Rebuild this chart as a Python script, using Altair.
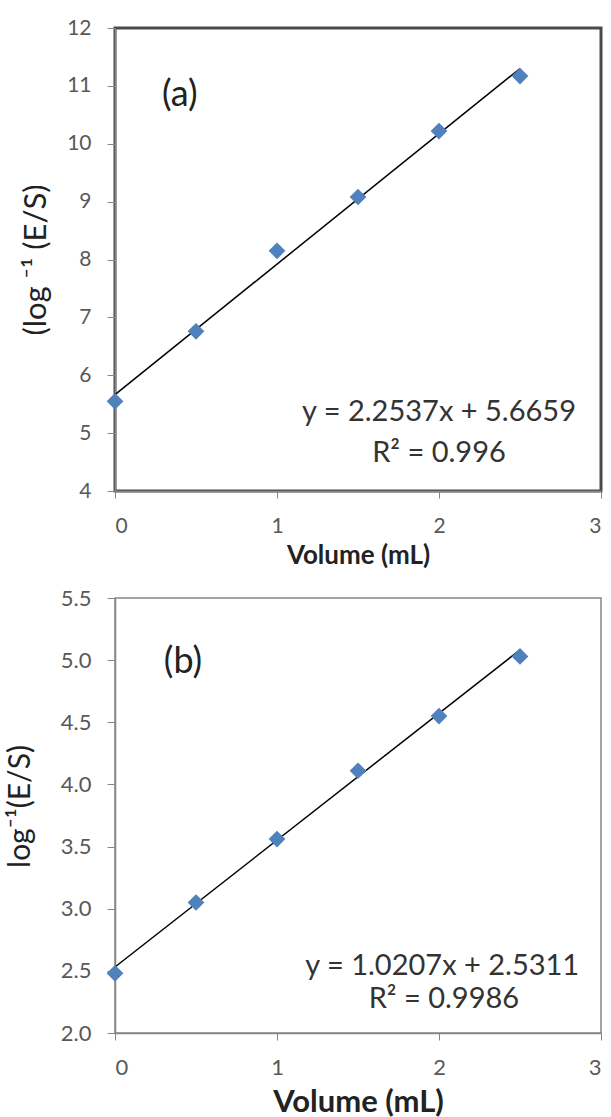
import altair as alt
import pandas as pd

# ---- data ----
volume = [0, 0.5, 1, 1.5, 2, 2.5]
resp_a = [5.55, 6.76, 8.15, 9.08, 10.22, 11.17]
resp_b = [2.48, 3.05, 3.56, 4.11, 4.55, 5.03]

slope_a, icpt_a = 2.2537, 5.6659
slope_b, icpt_b = 1.0207, 2.5311
fit_range = [0, 2.5]

eq_a = ["y = 2.2537x + 5.6659", "R² = 0.996"]
eq_b = ["y = 1.0207x + 2.5311", "R² = 0.9986"]
eq_a_x = [2.0, 2.0]
eq_a_y = [5.37, 4.66]
eq_b_x = [2.02, 2.03]
eq_b_y = [2.54, 2.27]

panel_labels = ["(a)", "(b)"]
panel_label_x = [0.40, 0.42]
panel_label_y = [10.84, 4.985]

x_ticks = [0, 1, 2, 3]
y_ticks_a = [4, 5, 6, 7, 8, 9, 10, 11, 12]
y_ticks_b = [2.0, 2.5, 3.0, 3.5, 4.0, 4.5, 5.0, 5.5]

FONT = "Lato"
MARK_COLOR = "#4F81BD"
LABEL_COLOR = "#595959"


def panel(resp, slope, icpt, eqs, eq_x, eq_y, lab, lab_x, lab_y,
          ydom, yticks, yfmt, ytitle, ytitle_x, ytitle_y, w, h,
          label_size, xtitle_size, ytitle_size, eq_size, view_stroke, view_sw,
          xtitle_pad):
    pts = pd.DataFrame({"v": volume, "r": resp})
    fit = pd.DataFrame({"v": fit_range})
    txt = pd.DataFrame({"x": eq_x, "y": eq_y, "t": eqs})
    plab = pd.DataFrame({"x": [lab_x], "y": [lab_y], "t": [lab]})

    xsc = alt.Scale(domain=[0, 3], nice=False, zero=False)
    ysc = alt.Scale(domain=ydom, nice=False, zero=False)

    yaxis_kw = dict(
        values=yticks, format=yfmt, grid=False, tickSize=8, labelPadding=16,
        labelFont=FONT, labelFontSize=label_size, labelColor=LABEL_COLOR,
        domainColor="#868686", tickColor="#868686", domainWidth=1.5,
        title=ytitle, titleFont=FONT, titleFontSize=ytitle_size,
        titleFontWeight="normal", titleColor="#222222", titleX=ytitle_x,
    )
    if ytitle_y is not None:
        yaxis_kw["titleY"] = ytitle_y
    xaxis = alt.Axis(
        values=x_ticks, format="d", grid=False, tickSize=7, labelPadding=17,
        labelFont=FONT, labelFontSize=label_size, labelColor=LABEL_COLOR,
        domainColor="#868686", tickColor="#868686", domainWidth=1.5,
        title="Volume (mL)", titleFont=FONT, titleFontSize=xtitle_size,
        titleFontWeight="bold", titleColor="#222222", titlePadding=xtitle_pad,
    )

    base_x = alt.X("v:Q", scale=xsc, axis=xaxis)
    base_y = alt.Y("r:Q", scale=ysc, axis=alt.Axis(**yaxis_kw))

    line = alt.Chart(fit).transform_calculate(
        r=f"{icpt} + {slope} * datum.v"
    ).mark_line(color="black", strokeWidth=1.5).encode(x=base_x, y=base_y)

    points = alt.Chart(pts).mark_point(
        shape="diamond", filled=True, size=280, color=MARK_COLOR, opacity=1
    ).encode(x=base_x, y=base_y)

    eq = alt.Chart(txt).mark_text(
        font=FONT, fontSize=eq_size, color="#333333", align="center", baseline="middle"
    ).encode(x=alt.X("x:Q", scale=xsc), y=alt.Y("y:Q", scale=ysc), text="t:N")

    pl = alt.Chart(plab).mark_text(
        font=FONT, fontSize=36, color="#222222", align="center", baseline="middle"
    ).encode(x=alt.X("x:Q", scale=xsc), y=alt.Y("y:Q", scale=ysc), text="t:N")

    return alt.layer(line, points, eq, pl).properties(
        width=w, height=h,
        view=alt.ViewConfig(stroke=view_stroke, strokeWidth=view_sw),
    )


top = panel(resp_a, slope_a, icpt_a, eq_a, eq_a_x, eq_a_y,
            panel_labels[0], panel_label_x[0], panel_label_y[0],
            [4, 12], y_ticks_a, "d", "(log ⁻¹ (E/S)", -63, None, 486, 463,
            21, 26, 31, 29, "#4a4a4a", 3, 6)

bottom = panel(resp_b, slope_b, icpt_b, eq_b, eq_b_x, eq_b_y,
               panel_labels[1], panel_label_x[1], panel_label_y[1],
               [2, 5.5], y_ticks_b, ".1f", "log⁻¹(E/S)", -80, 208, 486, 435,
               22, 31, 30, 29, "#868686", 1.5, 9)

chart = alt.vconcat(top, bottom, spacing=16).properties(
    padding={"left": 4, "top": 15, "right": 0, "bottom": 0},
    background="white",
).resolve_scale(x="independent", y="independent")

chart.save("out.html", embed_options={"renderer": "svg", "actions": False})
